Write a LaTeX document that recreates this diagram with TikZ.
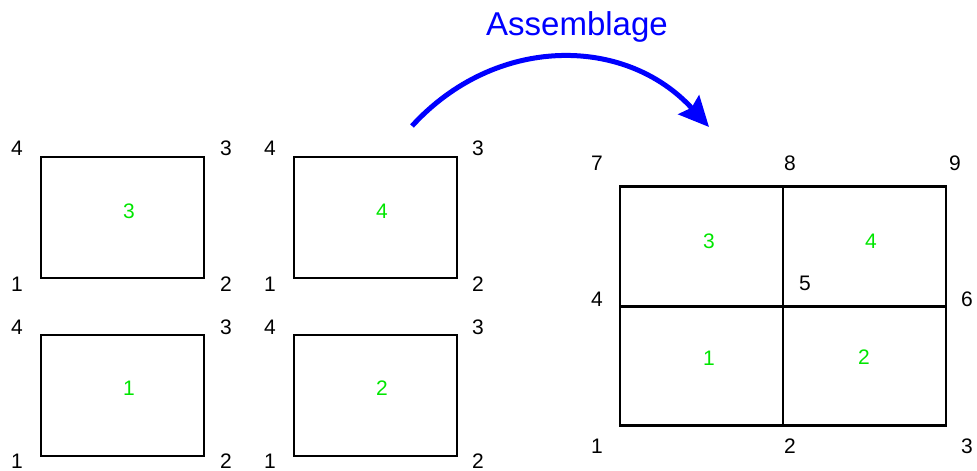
\documentclass[tikz,border=0pt]{standalone}
\usepackage{fontspec}
\setmainfont{Liberation Sans}
\usetikzlibrary{arrows.meta}
\definecolor{elgreen}{RGB}{0,230,0}
\definecolor{arrblue}{RGB}{0,0,255}
\begin{document}
\begin{tikzpicture}[x=1pt,y=-1pt,
  box/.style={draw=black,line width=2.7pt,minimum width=163pt,minimum height=121pt,inner sep=0pt,outer sep=0pt},
  cell/.style={draw=black,line width=2.7pt,minimum width=163pt,minimum height=119.5pt,inner sep=0pt,outer sep=0pt},
  num/.style={font=\fontsize{21}{21}\selectfont,text=black,inner sep=0pt},
  elnum/.style={font=\fontsize{21}{21}\selectfont,text=elgreen,inner sep=0pt}]
\useasboundingbox (0,0) rectangle (977,471);
% small boxes
\node[box] (b3) at (122.5,217.5) {};
\node[box] (b4) at (375.5,217.5) {};
\node[box] (b1) at (122.5,395.5) {};
\node[box] (b2) at (375.5,395.5) {};
\node[elnum] (e3) at (129,211) {3};
\node[elnum] (e4) at (382,211) {4};
\node[elnum] (e1) at (129,388) {1};
\node[elnum] (e2) at (382,388) {2};
% corner numbers of small boxes
\node[num] (b3n4) at (17,148) {4}; \node[num] (b3n3) at (226,148) {3};
\node[num] (b3n1) at (17,284) {1}; \node[num] (b3n2) at (226,284) {2};
\node[num] (b4n4) at (270,148) {4}; \node[num] (b4n3) at (478,148) {3};
\node[num] (b4n1) at (270,284) {1}; \node[num] (b4n2) at (478,284) {2};
\node[num] (b1n4) at (17,327) {4}; \node[num] (b1n3) at (226,327) {3};
\node[num] (b1n1) at (17,461) {1}; \node[num] (b1n2) at (226,461) {2};
\node[num] (b2n4) at (270,327) {4}; \node[num] (b2n3) at (478,327) {3};
\node[num] (b2n1) at (270,461) {1}; \node[num] (b2n2) at (478,461) {2};
% assembled grid
\node[cell] (c3) at (701.5,246.5) {};
\node[cell] (c4) at (864.5,246.5) {};
\node[cell] (c1) at (701.5,366) {};
\node[cell] (c2) at (864.5,366) {};
\node[elnum] (g3) at (709,241) {3};
\node[elnum] (g4) at (871,241) {4};
\node[elnum] (g1) at (709,358) {1};
\node[elnum] (g2) at (864,357) {2};
\node[num] (n7) at (597,163) {7};
\node[num] (n8) at (790,163) {8};
\node[num] (n9) at (955,163) {9};
\node[num] (n4) at (597,299) {4};
\node[num] (n5) at (805,283) {5};
\node[num] (n6) at (967,299) {6};
\node[num] (n1) at (597,446) {1};
\node[num] (n2) at (790,446) {2};
\node[num] (n3) at (967,446) {3};
% assembly arrow
\coordinate (as) at (412,126);
\coordinate (ae) at (709,127);
\draw[arrblue,line width=5pt,-{Stealth[length=30pt,width=28pt,inset=4pt]}]
  (as) .. controls (495,35) and (625,35) .. (ae);
\node[font=\fontsize{33}{33}\selectfont,text=arrblue,inner sep=0pt] (lab) at (577,27) {Assemblage};
\end{tikzpicture}
\end{document}
